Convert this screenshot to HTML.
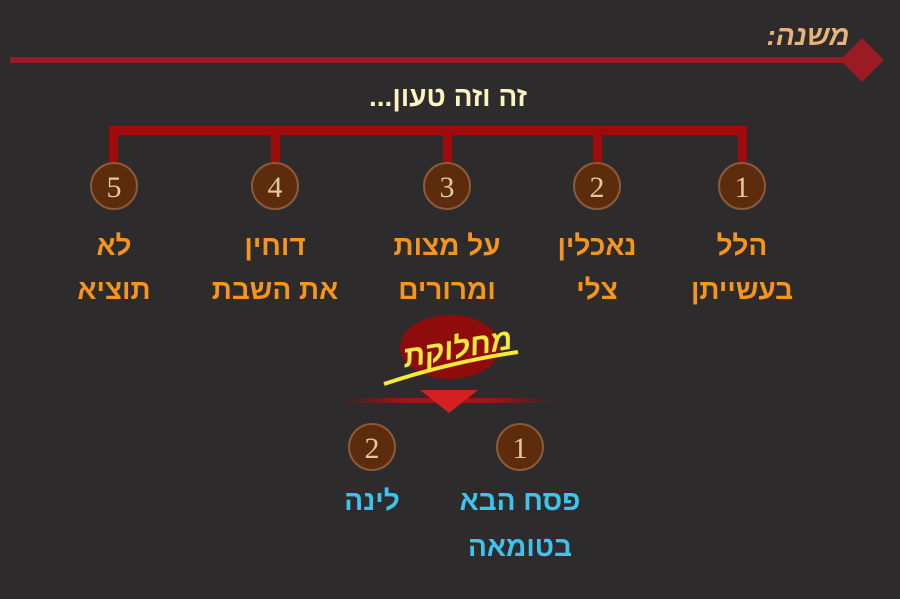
<!DOCTYPE html>
<html><head><meta charset="utf-8"><style>
html,body{margin:0;padding:0;background:#2d2b2b;}
svg{display:block}
text{font-family:"Liberation Sans","Noto Sans CJK SC",sans-serif;font-weight:bold}
.o{fill:#f7941d;font-size:28px}
.c{fill:#3ec3ef;font-size:28px}
.n{fill:#e3c9a3;font-family:"Liberation Serif",serif;font-weight:normal;font-size:30px}
</style></head><body>
<svg width="900" height="599" viewBox="0 0 900 599" xmlns="http://www.w3.org/2000/svg">
<defs>
<linearGradient id="lg" x1="0" x2="1"><stop offset="0" stop-color="#8a1010" stop-opacity="0"/><stop offset="0.3" stop-color="#a01515"/><stop offset="0.7" stop-color="#a01515"/><stop offset="1" stop-color="#8a1010" stop-opacity="0"/></linearGradient>
</defs>
<rect width="900" height="599" fill="#2d2b2b"/>
<rect x="10" y="57" width="850" height="6" fill="#9b1b24"/>
<polygon points="862,38 884,60 862,82 840,60" fill="#9b1b24"/>
<text x="808" y="45" fill="#e8b37a" font-size="28" font-style="italic" font-weight="normal" text-anchor="middle" direction="rtl">משנה:</text>
<text x="448" y="106" fill="#fbf3c0" font-size="28" text-anchor="middle" direction="rtl">זה וזה טעון...</text>
<g fill="#a00a0a">
<rect x="109" y="126" width="638" height="9"/>
<rect x="109" y="126" width="9" height="36"/>
<rect x="271" y="126" width="9" height="36"/>
<rect x="443" y="126" width="9" height="36"/>
<rect x="593" y="126" width="9" height="36"/>
<rect x="738" y="126" width="9" height="36"/>
</g>
<g fill="#5c2c0c" stroke="#8a5a3a" stroke-width="2">
<circle cx="114" cy="186" r="23"/><circle cx="275" cy="186" r="23"/><circle cx="447" cy="186" r="23"/><circle cx="597" cy="186" r="23"/><circle cx="742" cy="186" r="23"/>
<circle cx="372" cy="447" r="23"/><circle cx="520" cy="447" r="23"/>
</g>
<g class="n" text-anchor="middle">
<text class="n" x="114" y="197">5</text><text class="n" x="275" y="197">4</text><text class="n" x="447" y="197">3</text><text class="n" x="597" y="197">2</text><text class="n" x="742" y="197">1</text>
<text class="n" x="372" y="458">2</text><text class="n" x="520" y="458">1</text>
</g>
<g text-anchor="middle" direction="rtl">
<text class="o" x="114" y="255">לא</text><text class="o" x="114" y="299">תוציא</text>
<text class="o" x="275" y="255">דוחין</text><text class="o" x="275" y="299">את השבת</text>
<text class="o" x="447" y="255">על מצות</text><text class="o" x="447" y="299">ומרורים</text>
<text class="o" x="597" y="255">נאכלין</text><text class="o" x="597" y="299">צלי</text>
<text class="o" x="742" y="255">הלל</text><text class="o" x="742" y="299">בעשייתן</text>
<text class="c" x="372" y="510">לינה</text>
<text class="c" x="520" y="510">פסח הבא</text><text class="c" x="520" y="556">בטומאה</text>
</g>
<ellipse cx="450" cy="347" rx="50" ry="32" fill="#8f0c0c"/>
<text x="458" y="358" fill="#f4ea3a" font-size="30" font-style="italic" text-anchor="middle" direction="rtl" transform="rotate(-10 458 350)">מחלוקת</text>
<path d="M384 384 Q450 362 518 352" stroke="#f4ea3a" stroke-width="4" fill="none"/>
<rect x="340" y="398" width="215" height="5" fill="url(#lg)"/>
<polygon points="420,390 478,390 449,413" fill="#d42020"/>
</svg>
</body></html>
